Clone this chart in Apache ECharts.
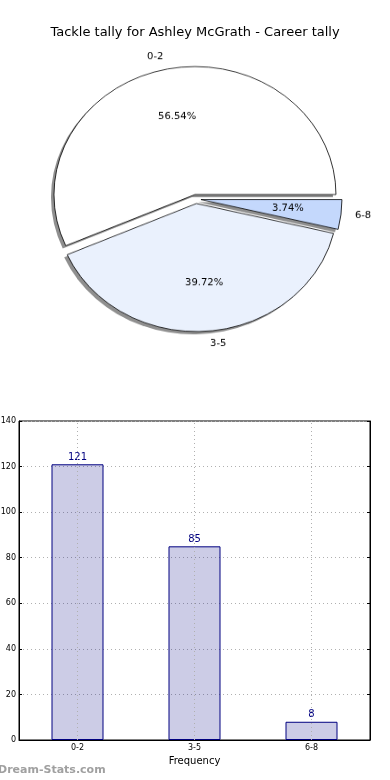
<!DOCTYPE html>
<html>
<head>
<meta charset="utf-8">
<script src="https://cdn.jsdelivr.net/npm/echarts@6/dist/echarts.min.js"></script>
<style>
html,body{margin:0;padding:0;background:#fff;}
#wrap{position:relative;width:390px;height:780px;}
#chart{position:absolute;left:0;top:0;width:390px;height:780px;}
#pie{position:absolute;left:0;top:0;width:390px;height:400px;transform:scaleY(0.908);transform-origin:0 199px;}
</style>
</head>
<body>
<div id="wrap"><div id="chart"></div><div id="pie"></div></div>
<script>
var titleText = 'Tackle tally for Ashley McGrath - Career tally';
var categories = ['0-2', '3-5', '6-8'];
var tallies = [121, 85, 8];
var sliceColors = ['#ffffff', '#eaf1fd', '#c4d8fc'];
var yTicks = [0, 20, 40, 60, 80, 100, 120, 140];
var xAxisName = 'Frequency';
var watermark = 'Dream-Stats.com';

var total = tallies.reduce(function (a, b) { return a + b; }, 0);
var font = 'DejaVu Sans';
var R = 141;

function makeData(withColor) {
  return categories.map(function (c, i) {
    var d = { name: c, value: tallies[i], selected: true };
    if (withColor) d.itemStyle = { color: sliceColors[i] };
    return d;
  });
}

var chart = echarts.init(document.getElementById('chart'), null, { renderer: 'canvas' });
chart.setOption({
  animation: false,
  backgroundColor: '#ffffff',
  title: {
    text: titleText, left: 'center', top: 21,
    textStyle: { fontFamily: font, fontSize: 13, fontWeight: 'normal', color: '#000' }
  },
  graphic: [{
    type: 'text', left: -2, top: 765,
    style: { text: watermark, fill: '#a0a0a0', font: 'bold 11px "DejaVu Sans"' }
  }],
  grid: {
    left: 19, right: 20, top: 421, bottom: 40,
    outerBoundsMode: 'none', containLabel: false,
    show: true, borderColor: '#000', borderWidth: 1, backgroundColor: 'transparent'
  },
  xAxis: {
    type: 'category', data: categories,
    name: xAxisName, nameLocation: 'middle', nameGap: 16,
    nameTextStyle: { fontFamily: font, fontSize: 10, color: '#000' },
    axisLine: { lineStyle: { color: '#000' } },
    axisTick: { inside: true, alignWithLabel: true, length: 3, lineStyle: { color: '#000' } },
    axisLabel: { fontFamily: font, fontSize: 8, color: '#000', margin: 4 },
    splitLine: { show: false }
  },
  yAxis: [{
    type: 'value', min: yTicks[0], max: yTicks[yTicks.length - 1], interval: 20,
    axisLine: { show: true, lineStyle: { color: '#000' } },
    axisTick: { show: true, inside: true, length: 3, lineStyle: { color: '#000' } },
    axisLabel: { fontFamily: font, fontSize: 8, color: '#000', margin: 3 },
    splitLine: { show: true, lineStyle: { color: '#b0b0b0', type: [1, 3], width: 1 } }
  }, {
    type: 'value', position: 'right', min: yTicks[0], max: yTicks[yTicks.length - 1], interval: 20,
    axisLine: { show: true, lineStyle: { color: '#000' } },
    axisTick: { show: true, inside: true, length: 3, lineStyle: { color: '#000' } },
    axisLabel: { show: false },
    splitLine: { show: false }
  }],
  series: [{
    type: 'bar',
    data: tallies,
    barWidth: 52,
    itemStyle: { color: 'rgba(0,0,128,0.2)', borderColor: '#000080', borderWidth: 1 },
    label: {
      show: true, position: 'top', distance: 2,
      fontFamily: font, fontSize: 10, color: '#000080'
    },
    silent: true,
    markLine: {
      silent: true, symbol: 'none',
      label: { show: false },
      lineStyle: { color: '#b0b0b0', type: [1, 3], width: 1 },
      data: categories.map(function (c) { return { xAxis: c }; })
    }
  }]
});

var common = {
  type: 'pie',
  radius: [0, R],
  startAngle: 0,
  clockwise: false,
  selectedMode: 'multiple',
  selectedOffset: 5,
  avoidLabelOverlap: false,
  silent: true,
  emphasis: { disabled: true },
  labelLine: { show: false }
};

var pie = echarts.init(document.getElementById('pie'), null, { renderer: 'canvas' });
pie.setOption({
  animation: false,
  series: [
    Object.assign({}, common, {
      center: [193, 202],
      data: makeData(false),
      itemStyle: { color: '#8f8f8f', borderWidth: 0 },
      label: { show: false },
      z: 1
    }),
    Object.assign({}, common, {
      center: [196, 199],
      data: makeData(true),
      itemStyle: { borderColor: '#000', borderWidth: 0.8 },
      label: {
        show: true, position: 'outside', distanceToLabelLine: 0,
        formatter: '{b}', fontFamily: font, fontSize: 10, color: '#000'
      },
      labelLine: { show: false, length: 14, length2: 0 },
      z: 2
    }),
    Object.assign({}, common, {
      center: [196, 199],
      radius: [0, R * 1.2],
      data: makeData(false),
      itemStyle: { color: 'rgba(0,0,0,0)', borderWidth: 0 },
      label: {
        show: true, position: 'inside',
        formatter: function (p) { return (p.value / total * 100).toFixed(2) + '%'; },
        fontFamily: font, fontSize: 10, color: '#000'
      },
      z: 3
    })
  ]
});
</script>
</body>
</html>
